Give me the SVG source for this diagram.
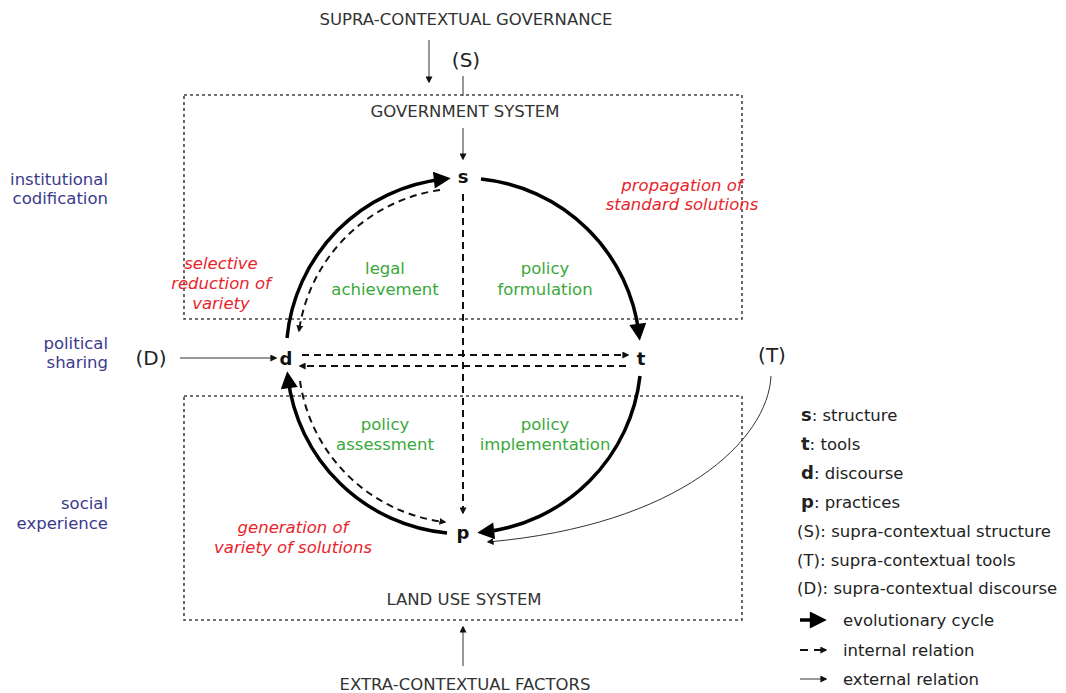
<svg xmlns="http://www.w3.org/2000/svg" width="1066" height="693" viewBox="0 0 1066 693">
<defs>
<style>
text{font-family:"DejaVu Sans","Liberation Sans",sans-serif;}
.cap{font-size:16.5px;fill:#333;text-anchor:middle;}
.node{font-size:18px;font-weight:bold;fill:#111;text-anchor:middle;}
.ext{font-size:20px;fill:#222;text-anchor:middle;}
.blue{font-size:16.5px;fill:#3a3a8c;text-anchor:end;}
.red{font-size:16.5px;fill:#e8252c;font-style:italic;text-anchor:middle;}
.green{font-size:16.5px;fill:#3aa83a;text-anchor:middle;}
.leg{font-size:16.5px;fill:#222;}
.legb{font-size:18px;font-weight:bold;}
.box{fill:none;stroke:#444;stroke-width:1.6;stroke-dasharray:3 3;}
.thick{fill:none;stroke:#000;stroke-width:3.5;}
.dash{fill:none;stroke:#111;stroke-width:2;stroke-dasharray:7 5;}
.thin{fill:none;stroke:#333;stroke-width:1;}
</style>
<marker id="big" viewBox="0 0 10 10" refX="6" refY="5" markerUnits="userSpaceOnUse" markerWidth="18" markerHeight="17" orient="auto">
<path d="M0,0 L10,5 L0,10 z" fill="#000"/>
</marker>
<marker id="sm" viewBox="0 0 10 10" refX="8" refY="5" markerUnits="userSpaceOnUse" markerWidth="7" markerHeight="7" orient="auto">
<path d="M0,0 L10,5 L0,10 z" fill="#111"/>
</marker>
</defs>
<rect width="1066" height="693" fill="#fff"/>

<g id="government-system">
<rect class="box" x="184" y="95" width="558" height="224"/>
<text class="cap" x="465" y="117">GOVERNMENT SYSTEM</text>
</g>
<g id="land-use-system">
<rect class="box" x="184" y="396" width="558" height="224"/>
<text class="cap" x="464" y="605">LAND USE SYSTEM</text>
</g>

<g id="connectors">
<path class="thick" d="M287,338 A177,177 0 0 1 444,179" marker-end="url(#big)"/>
<path class="thick" d="M481,179 A177,177 0 0 1 639,334" marker-end="url(#big)"/>
<path class="thick" d="M640,376 A177,177 0 0 1 484,532" marker-end="url(#big)"/>
<path class="thick" d="M447,533 A177,177 0 0 1 288,378" marker-end="url(#big)"/>
<path class="dash" d="M440,190 A166,166 0 0 0 299,331" marker-end="url(#sm)"/>
<path class="dash" d="M300,381 A166,166 0 0 0 445,522" marker-end="url(#sm)"/>
<path class="dash" d="M302,355 L628,355" marker-end="url(#sm)"/>
<path class="dash" d="M626,366 L300,366" marker-end="url(#sm)"/>
<path class="dash" d="M463,194 L463,513" marker-end="url(#sm)"/>
<path class="thin" d="M429,40 L429,82" marker-end="url(#sm)"/>
<path class="thin" d="M463,76 L463,96"/>
<path class="thin" d="M463,128 L463,159" marker-end="url(#sm)"/>
<path class="thin" d="M180,358 L276,358" marker-end="url(#sm)"/>
<path class="thin" d="M771,376 C768,440 680,525 488,542" marker-end="url(#sm)"/>
<path class="thin" d="M463,666 L463,627" marker-end="url(#sm)"/>
</g>

<g id="supra-governance"><text class="cap" x="466" y="25">SUPRA-CONTEXTUAL GOVERNANCE</text></g>
<g id="S-ext"><text class="ext" x="466" y="67">(S)</text></g>
<g id="D-ext"><text class="ext" x="151" y="365">(D)</text></g>
<g id="T-ext"><text class="ext" x="772" y="362">(T)</text></g>
<g id="extra-factors"><text class="cap" x="465" y="690">EXTRA-CONTEXTUAL FACTORS</text></g>

<g id="node-s"><text class="node" x="463" y="183">s</text></g>
<g id="node-d"><text class="node" x="286" y="365">d</text></g>
<g id="node-t"><text class="node" x="641" y="365">t</text></g>
<g id="node-p"><text class="node" x="463" y="539">p</text></g>

<g id="left-labels">
<text class="blue" x="108" y="185">institutional</text>
<text class="blue" x="108" y="204">codification</text>
<text class="blue" x="108" y="349">political</text>
<text class="blue" x="108" y="368">sharing</text>
<text class="blue" x="108" y="509">social</text>
<text class="blue" x="108" y="529">experience</text>
</g>

<g id="red-labels">
<text class="red" x="221" y="269">selective</text>
<text class="red" x="221" y="289">reduction of</text>
<text class="red" x="221" y="309">variety</text>
<text class="red" x="682" y="191">propagation of</text>
<text class="red" x="682" y="210">standard solutions</text>
<text class="red" x="293" y="533">generation of</text>
<text class="red" x="293" y="553">variety of solutions</text>
</g>

<g id="green-labels">
<text class="green" x="385" y="274">legal</text>
<text class="green" x="385" y="295">achievement</text>
<text class="green" x="545" y="274">policy</text>
<text class="green" x="545" y="295">formulation</text>
<text class="green" x="385" y="430">policy</text>
<text class="green" x="385" y="450">assessment</text>
<text class="green" x="545" y="430">policy</text>
<text class="green" x="545" y="450">implementation</text>
</g>

<g id="legend">
<text class="leg" x="801" y="421"><tspan class="legb">s</tspan>: structure</text>
<text class="leg" x="801" y="450"><tspan class="legb">t</tspan>: tools</text>
<text class="leg" x="801" y="479"><tspan class="legb">d</tspan>: discourse</text>
<text class="leg" x="801" y="508"><tspan class="legb">p</tspan>: practices</text>
<text class="leg" x="797" y="537">(S): supra-contextual structure</text>
<text class="leg" x="797" y="566">(T): supra-contextual tools</text>
<text class="leg" x="797" y="594">(D): supra-contextual discourse</text>
<path class="thick" d="M800,620 L820,620" marker-end="url(#big)"/>
<text class="leg" x="843" y="626">evolutionary cycle</text>
<path d="M800,650 L808,650" stroke="#111" stroke-width="2"/>
<path d="M814,650 L826,650" stroke="#111" stroke-width="2" marker-end="url(#sm)"/>
<text class="leg" x="843" y="656">internal relation</text>
<path class="thin" d="M800,679 L826,679" marker-end="url(#sm)"/>
<text class="leg" x="843" y="685">external relation</text>
</g>
</svg>
